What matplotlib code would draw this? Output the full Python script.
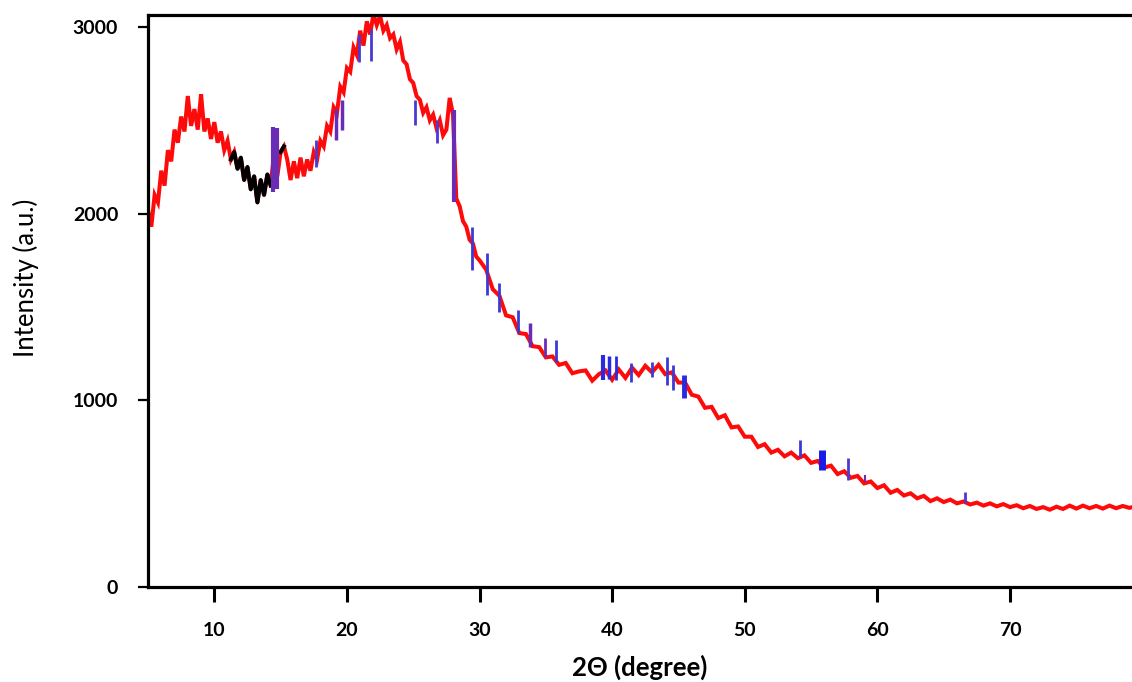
import numpy as np
import matplotlib
matplotlib.use("Agg")
import matplotlib.pyplot as plt

plt.rcParams['font.family'] = ['Lato', 'DejaVu Sans']

# XRD scan, fine steps over the low-angle region
angle_low = np.arange(5.0, 30.0, 0.25)
counts_low = [
    2020, 1930, 2100, 2060, 2230, 2150, 2340, 2280, 2450, 2380,
    2520, 2440, 2630, 2470, 2560, 2450, 2640, 2440, 2510, 2400,
    2490, 2380, 2440, 2340, 2390, 2290, 2330, 2240, 2300, 2180,
    2250, 2130, 2200, 2060, 2180, 2100, 2210, 2150, 2320, 2200,
    2330, 2360, 2290, 2180, 2280, 2190, 2300, 2200, 2290, 2230,
    2330, 2290, 2390, 2360, 2470, 2440, 2570, 2540, 2680, 2650,
    2780, 2760, 2890, 2850, 2980, 2900, 3030, 2960, 3070, 3010,
    3060, 2980, 3010, 2940, 2960, 2880, 2920, 2820, 2800, 2720,
    2700, 2630, 2610, 2540, 2570, 2500, 2530, 2460, 2500, 2420,
    2450, 2620, 2530, 2080, 2040, 1960, 1930, 1860, 1840, 1770,
]

# coarser steps over the tail
angle_high = np.arange(30.0, 80.0, 0.5)
counts_high = [
    1750, 1700, 1595, 1560, 1455, 1445, 1360, 1355, 1290, 1285,
    1230, 1235, 1190, 1200, 1145, 1155, 1160, 1105, 1140, 1160,
    1110, 1165, 1120, 1175, 1135, 1185, 1150, 1190, 1140, 1150,
    1095, 1095, 1030, 1020, 960, 965, 905, 920, 855, 860,
    805, 805, 750, 765, 720, 735, 700, 720, 690, 705,
    665, 675, 640, 650, 605, 620, 585, 595, 555, 565,
    530, 545, 505, 520, 490, 502, 475, 488, 460, 475,
    455, 468, 448, 458, 442, 452, 436, 448, 432, 444,
    428, 438, 422, 434, 418, 428, 414, 430, 418, 436,
    420, 436, 422, 434, 420, 436, 422, 434, 424, 432,
]

angle = np.concatenate([angle_low, angle_high])
counts = np.array(counts_low + counts_high, dtype=float)

# stretches of the scan traced in black
black_ranges = [(11.2, 14.3), (14.9, 15.4)]

# short vertical strokes along the trace
spike_x = [14.45, 14.7, 17.7, 19.2, 19.6, 20.9, 21.8, 25.1, 26.8, 28.05,
           29.4, 30.6, 31.5, 32.9, 33.8, 34.9, 35.8, 39.3, 39.8, 40.3,
           41.4, 43.0, 44.1, 44.6, 45.4, 54.2, 55.8, 57.8, 59.1, 66.6]
spike_lo = [2115, 2130, 2250, 2395, 2450, 2810, 2820, 2475, 2380, 2060,
            1700, 1565, 1475, 1360, 1285, 1230, 1205, 1110, 1115, 1110,
            1100, 1125, 1080, 1055, 1010, 695, 625, 575, 560, 450]
spike_hi = [2465, 2460, 2395, 2560, 2610, 2960, 2990, 2610, 2500, 2555,
            1930, 1790, 1630, 1485, 1415, 1335, 1325, 1245, 1240, 1240,
            1200, 1205, 1230, 1190, 1135, 790, 735, 690, 600, 510]
spike_col = ['#6a2cb4', '#6a2cb4', '#4a3ad0', '#6a2cb4', '#6a2cb4',
             '#4a3ad0', '#4a3ad0', '#4a3ad0', '#4a3ad0', '#6a2cb4',
             '#3a3ad8', '#3a3ad8', '#3a3ad8', '#3a3ad8', '#6a2cb4',
             '#6a2cb4', '#3a3ad8', '#2a2ae0', '#2a2ae0', '#2a2ae0',
             '#3a3ad8', '#3a3ad8', '#3a3ad8', '#3a3ad8', '#2a2ae0',
             '#3a3ad8', '#1a1ae8', '#4a3ad0', '#6a2cb4', '#4a3ad0']
spike_w = [3, 3, 2, 2.5, 2.5, 2, 2, 2, 2, 3,
           2, 2, 2, 2, 2.5, 2, 2, 3, 2.5, 2,
           2, 2, 2, 2, 3.5, 2, 5, 2, 1.5, 2]

fig = plt.figure(figsize=(11.32, 6.82), dpi=100)
ax = fig.add_axes([148 / 1132, 95 / 682, 1 - 148 / 1132, 572 / 682])

ax.plot(angle, counts, color='#ff0a0a', lw=2.9, solid_joinstyle='miter', zorder=2)
for lo, hi in black_ranges:
    sel = (angle >= lo) & (angle <= hi)
    ax.plot(angle[sel], counts[sel], color='black', lw=2.9, zorder=3)
ax.vlines(spike_x, spike_lo, spike_hi, colors=spike_col, linewidths=spike_w, zorder=4)

ax.set_xlim(5, 79.2)
ax.set_ylim(0, 3064)
ax.set_xticks([10, 20, 30, 40, 50, 60, 70])
ax.set_yticks([0, 1000, 2000, 3000])

for side in ['left', 'bottom', 'top']:
    ax.spines[side].set_linewidth(2.3)
ax.spines['right'].set_visible(False)

ax.tick_params(axis='y', direction='out', length=7.5, width=1.6, pad=14)
ax.tick_params(axis='x', direction='out', length=11, width=2.2, pad=14)
for lbl in ax.get_xticklabels() + ax.get_yticklabels():
    lbl.set_fontsize(14)
    lbl.set_fontweight('bold')

ax.set_ylabel('Intensity (a.u.)', fontsize=18.5)
ax.yaxis.set_label_coords(-0.111, 0.54)
ax.set_xlabel('2Θ (degree)', fontsize=18.5, fontweight='bold')
ax.xaxis.set_label_coords(0.5, -0.118)

fig.savefig('out.png', dpi=100)
